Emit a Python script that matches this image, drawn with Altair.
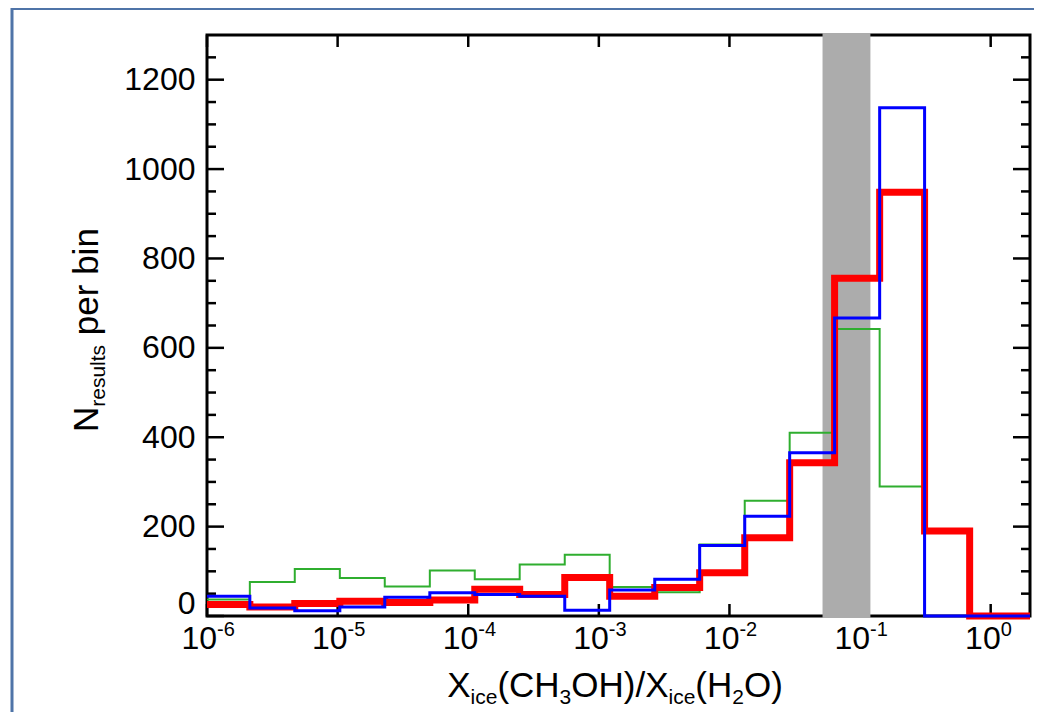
import altair as alt
import pandas as pd

# ---------------- data ----------------
bin_left_log10 = [-6.0, -5.672, -5.328, -4.983, -4.639, -4.294, -3.950, -3.606,
                  -3.261, -2.917, -2.572, -2.228, -1.883, -1.539, -1.195, -0.850,
                  -0.506, -0.161, 0.183]
x_end = 2.0
green_counts = [37, 76, 105, 85, 66, 102, 82, 115, 137, 65, 53, 160, 258, 410, 642, 290, 0, 0, 0]
blue_counts = [44, 18, 12, 20, 42, 52, 48, 44, 13, 58, 82, 158, 223, 365, 667, 1137, 0, 0, 0]
red_counts = [26, 20, 28, 33, 30, 36, 60, 48, 86, 44, 64, 97, 175, 343, 756, 948, 190, 0, 0]
band_range = [0.0516, 0.12]
x_tick_exp = [-6, -5, -4, -3, -2, -1, 0]
y_major = [0, 200, 400, 600, 800, 1000, 1200]
y_minor = [50, 100, 150, 250, 300, 350, 450, 500, 550, 650, 700, 750, 850, 900, 950,
           1050, 1100, 1150, 1250]

# ---------------- layout ----------------
W, H = 823, 581
F = "Liberation Sans"

rows = []
for name, vals in [("green", green_counts), ("blue", blue_counts), ("red", red_counts)]:
    for e, v in zip(bin_left_log10, vals):
        rows.append({"series": name, "x": 10 ** e, "n": v})
    rows.append({"series": name, "x": x_end, "n": vals[-1]})
hist = pd.DataFrame(rows)

xs = alt.Scale(type="log", domain=[1e-6, x_end], nice=False)
ys = alt.Scale(domain=[0, 1300], nice=False, zero=False)
yaxis = alt.Axis(
    values=y_major, format="d", ticks=False, domain=False, grid=False, title=None,
    labelFont=F, labelFontSize=32, labelColor="black", labelPadding=12,
    labelOffset={"condition": {"test": "datum.value === 0", "value": -13}, "value": 0},
)

ytick_major = pd.DataFrame({"v": y_major, "len": [17] * len(y_major)})
ytick_minor = pd.DataFrame({"v": y_minor, "len": [9] * len(y_minor)})
for d in (ytick_major, ytick_minor):
    d["rlen"] = W - d["len"]

layers = []
for d in (ytick_major, ytick_minor):
    layers.append(alt.Chart(d).mark_rule(color="black", strokeWidth=2.5).encode(
        y=alt.Y("v:Q", scale=ys, axis=yaxis),
        x=alt.X("len:Q", scale=None), x2=alt.value(0)))
    layers.append(alt.Chart(d).mark_rule(color="black", strokeWidth=2.5).encode(
        y=alt.Y("v:Q", scale=ys, axis=yaxis),
        x=alt.X("rlen:Q", scale=None), x2=alt.value(W)))

xt = pd.DataFrame({"x": [10.0 ** e for e in x_tick_exp],
                   "sup": [str(e) for e in x_tick_exp]})
xtick_bottom = alt.Chart(xt).mark_rule(color="black", strokeWidth=2.5).encode(
    x=alt.X("x:Q", scale=xs, axis=None), y=alt.value(H), y2=alt.value(H - 12))
xtick_top = alt.Chart(xt).mark_rule(color="black", strokeWidth=2.5).encode(
    x=alt.X("x:Q", scale=xs, axis=None), y=alt.value(0), y2=alt.value(12))
xlab_base = alt.Chart(xt).mark_text(align="right", baseline="alphabetic", dx=10,
                                    font=F, fontSize=32, color="black").encode(
    x=alt.X("x:Q", scale=xs, axis=None), y=alt.value(614), text=alt.value("10"))
xlab_sup = alt.Chart(xt).mark_text(align="left", baseline="alphabetic", dx=10,
                                   font=F, fontSize=20, color="black").encode(
    x=alt.X("x:Q", scale=xs, axis=None), y=alt.value(601), text="sup:N")

band = alt.Chart(pd.DataFrame({"lo": [band_range[0]], "hi": [band_range[1]]})).mark_rect(
    color="#acacac").encode(
    x=alt.X("lo:Q", scale=xs, axis=None), x2="hi:Q",
    y=alt.value(-2), y2=alt.value(H + 2))


def hist_layer(name, color, width):
    return alt.Chart(hist).transform_filter(alt.datum.series == name).mark_line(
        interpolate="step-after", color=color, strokeWidth=width,
        strokeJoin="miter", strokeCap="butt").encode(
        x=alt.X("x:Q", scale=xs, axis=None),
        y=alt.Y("n:Q", scale=ys, axis=yaxis),
        order="x:Q")


# ---------------- titles with sub-scripts ----------------
AW = {"X": 667, "i": 222, "c": 500, "e": 556, "(": 333, "C": 722, "H": 722, "3": 556,
      "O": 778, ")": 333, "/": 278, "2": 556, "N": 722, "r": 333, "s": 500, "u": 556,
      "l": 222, "t": 278, " ": 278, "p": 556, "b": 556, "n": 556}


def tw(s, fs):
    return sum(AW[c] for c in s) * fs / 1000.0


MAIN, SUB, SUBOFF = 35, 21, 7
title_layers = []
xpieces = [("X", 0), ("ice", 1), ("(CH", 0), ("3", 1), ("OH)/X", 0), ("ice", 1),
           ("(H", 0), ("2", 1), ("O)", 0)]
total = sum(tw(s, SUB if sub else MAIN) for s, sub in xpieces)
px = 408 - total / 2
for s, sub in xpieces:
    fs = SUB if sub else MAIN
    title_layers.append(alt.Chart(pd.DataFrame({"t": [s]})).mark_text(
        align="left", baseline="alphabetic", font=F, fontSize=fs, color="black").encode(
        x=alt.value(px), y=alt.value(662 + (SUBOFF if sub else 0)), text="t:N"))
    px += tw(s, fs)

# leading space of a piece is kept as an advance only (SVG drops leading blanks)
ypieces = [("N", 0, 0), ("results", 1, 0), ("per bin", 0, 1)]
py = 397
for s, sub, lead in ypieces:
    fs = SUB if sub else MAIN
    py -= lead * tw(" ", fs)
    title_layers.append(alt.Chart(pd.DataFrame({"t": [s]})).mark_text(
        align="left", baseline="alphabetic", angle=270, font=F, fontSize=fs,
        color="black").encode(
        x=alt.value(-109 + (SUBOFF if sub else 0)), y=alt.value(py), text="t:N"))
    py -= tw(s, fs)

# slide frame (decoration of the screenshot)
frame_v = alt.Chart(pd.DataFrame({"a": [0]})).mark_rule(color="#4f74a8", strokeWidth=3).encode(
    x=alt.value(-195), y=alt.value(-27), y2=alt.value(H + 96))
frame_h = alt.Chart(pd.DataFrame({"a": [0]})).mark_rule(color="#4f74a8", strokeWidth=2).encode(
    x=alt.value(-196), x2=alt.value(W + 4), y=alt.value(-26))

chart = alt.layer(
    *layers, xtick_bottom, xtick_top, band,
    hist_layer("green", "#2fae2f", 2),
    hist_layer("red", "#ff0000", 7),
    hist_layer("blue", "#0000ff", 3),
    xlab_base, xlab_sup, *title_layers, frame_v, frame_h,
).properties(
    width=W, height=H,
    autosize=alt.AutoSizeParams(type="none"),
    padding={"left": 199, "top": 27, "right": 4, "bottom": 96},
    background="white",
).configure_view(stroke="black", strokeWidth=3)

chart.save("out.html", embed_options={"renderer": "svg", "actions": False})
